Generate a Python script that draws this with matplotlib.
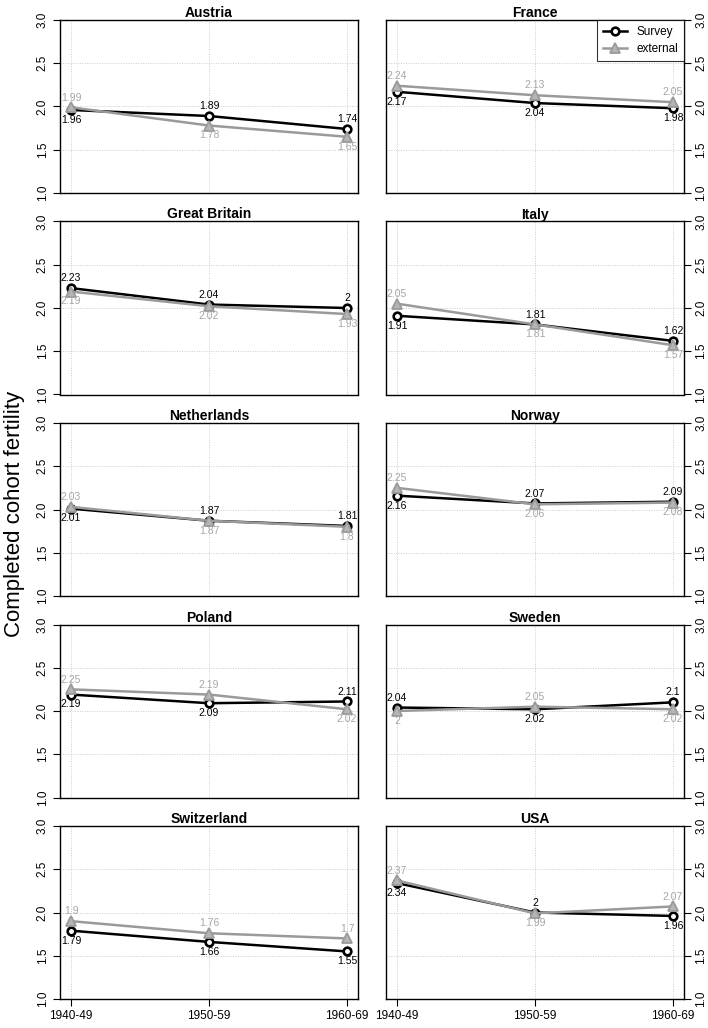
import matplotlib
matplotlib.use("Agg")
import matplotlib.pyplot as plt
from matplotlib.lines import Line2D

plt.rcParams['font.family'] = ['Liberation Sans', 'DejaVu Sans']

cohorts = ["1940-49", "1950-59", "1960-69"]
countries = ["Austria", "France", "Great Britain", "Italy", "Netherlands",
             "Norway", "Poland", "Sweden", "Switzerland", "USA"]
survey = {
    "Austria": [1.96, 1.89, 1.74],
    "France": [2.17, 2.04, 1.98],
    "Great Britain": [2.23, 2.04, 2.00],
    "Italy": [1.91, 1.81, 1.62],
    "Netherlands": [2.01, 1.87, 1.81],
    "Norway": [2.16, 2.07, 2.09],
    "Poland": [2.19, 2.09, 2.11],
    "Sweden": [2.04, 2.02, 2.10],
    "Switzerland": [1.79, 1.66, 1.55],
    "USA": [2.34, 2.00, 1.96],
}
external = {
    "Austria": [1.99, 1.78, 1.65],
    "France": [2.24, 2.13, 2.05],
    "Great Britain": [2.19, 2.02, 1.93],
    "Italy": [2.05, 1.81, 1.57],
    "Netherlands": [2.03, 1.87, 1.80],
    "Norway": [2.25, 2.06, 2.08],
    "Poland": [2.25, 2.19, 2.02],
    "Sweden": [2.00, 2.05, 2.02],
    "Switzerland": [1.90, 1.76, 1.70],
    "USA": [2.37, 1.99, 2.07],
}
yticks = [1.0, 1.5, 2.0, 2.5, 3.0]

W, H = 708, 1028
fig = plt.figure(figsize=(W / 100, H / 100), dpi=100)

col_x = [60, 386]
ax_w = 298
row_top = [20, 221.5, 423, 624.5, 826]
ax_h = 173

BLACK = "#000000"
GRAY = "#9a9a9a"
GRAY_TXT = "#a6a6a6"

def fmt(v):
    return f"{round(v, 2):g}"

x = [1, 2, 3]
for i, c in enumerate(countries):
    r, col = divmod(i, 2)
    left = col_x[col] / W
    bottom = 1 - (row_top[r] + ax_h) / H
    ax = fig.add_axes([left, bottom, ax_w / W, ax_h / H])
    ax.set_xlim(0.92, 3.08)
    ax.set_ylim(1.0, 3.0)
    for xv in x:
        ax.axvline(xv, color="#cccccc", lw=0.7, ls=(0, (1, 1.5)), zorder=0)
    for yv in [1.5, 2.0, 2.5]:
        ax.axhline(yv, color="#cccccc", lw=0.7, ls=(0, (1, 1.5)), zorder=0)
    s = survey[c]
    e = external[c]
    ax.plot(x, s, color=BLACK, lw=1.8, marker="o", ms=5.5, mfc="white",
            mec=BLACK, mew=1.9, zorder=3)
    ax.plot(x, e, color=GRAY, lw=1.8, marker="^", ms=7, mfc="#b5b5b5",
            mec=GRAY, mew=1.3, zorder=4)
    for xi, sv, ev in zip(x, s, e):
        s_up = sv >= ev
        ax.annotate(fmt(sv), (xi, sv), xytext=(0, 3.5 if s_up else -3.5),
                    textcoords="offset points", ha="center",
                    va="bottom" if s_up else "top", fontsize=7.5, color=BLACK,
                    zorder=5)
        ax.annotate(fmt(ev), (xi, ev), xytext=(0, -3.5 if s_up else 3.5),
                    textcoords="offset points", ha="center",
                    va="top" if s_up else "bottom", fontsize=7.5,
                    color=GRAY_TXT, zorder=5)
    ax.set_title(c, fontsize=10, fontweight="bold", pad=1.5)
    ax.set_yticks(yticks)
    ax.set_yticklabels([f"{t:.1f}" for t in yticks], rotation=90,
                       va="center", fontsize=8.5)
    if col == 1:
        ax.yaxis.tick_right()
    ax.tick_params(axis="y", length=5, width=0.8, pad=3)
    ax.set_xticks(x)
    if r == 4:
        ax.set_xticklabels(cohorts, fontsize=8.5)
        ax.tick_params(axis="x", length=5, width=0.8, pad=3)
    else:
        ax.tick_params(axis="x", length=0, labelbottom=False)
    for sp in ax.spines.values():
        sp.set_linewidth(1.0)
    if c == "France":
        handles = [
            Line2D([], [], color=BLACK, lw=1.8, marker="o", ms=5.5, mfc="white",
                   mec=BLACK, mew=1.9),
            Line2D([], [], color=GRAY, lw=1.8, marker="^", ms=7,
                   mfc="#b5b5b5", mec=GRAY, mew=1.3),
        ]
        leg = ax.legend(handles, ["Survey", "external"], loc="upper right",
                        fontsize=8.5, frameon=True, fancybox=False,
                        borderaxespad=0, handlelength=2.0, borderpad=0.5,
                        labelspacing=0.45, handletextpad=0.8)
        leg.get_frame().set_edgecolor("black")
        leg.get_frame().set_linewidth(0.8)

fig.text(15 / W, 1 - 514 / H, "Completed cohort fertility", rotation=90,
         va="center", ha="center", fontsize=16)

fig.savefig("out.png", dpi=100)
